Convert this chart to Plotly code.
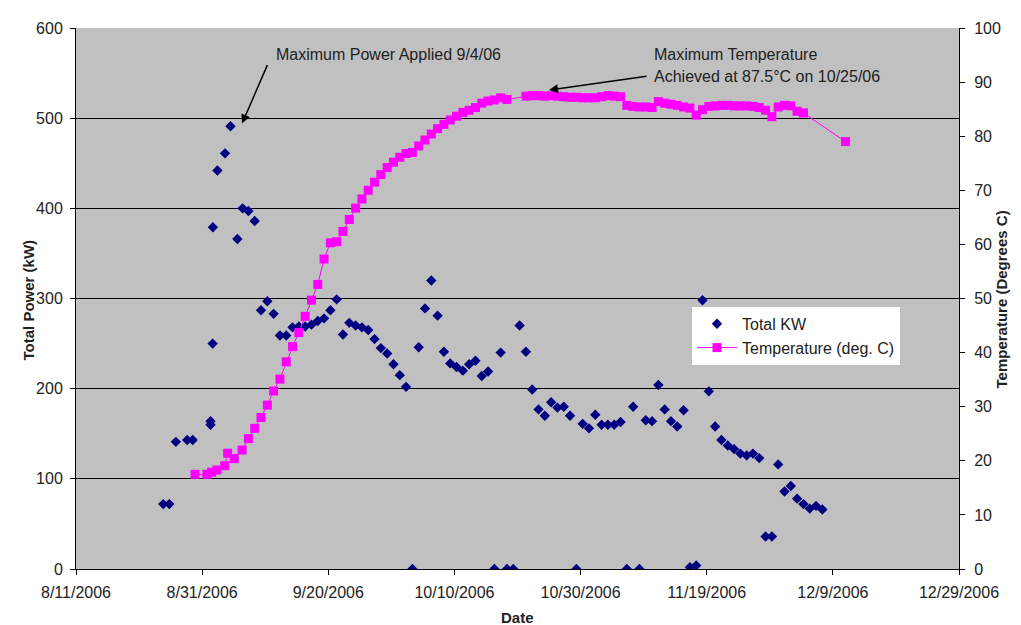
import plotly.graph_objects as go

# ---------------- data ----------------
kw_dates = [
    "2006-08-24 20:00", "2006-08-25 19:00", "2006-08-26 20:00", "2006-08-28 15:00",
    "2006-08-29 12:00", "2006-09-01 08:00", "2006-09-01 08:00", "2006-09-01 16:00",
    "2006-09-01 17:00", "2006-09-02 10:00", "2006-09-03 15:00", "2006-09-04 12:00",
    "2006-09-05 14:00", "2006-09-06 10:00", "2006-09-07 08:00", "2006-09-08 08:00",
    "2006-09-09 08:00", "2006-09-10 08:00", "2006-09-11 08:00", "2006-09-12 08:00",
    "2006-09-13 08:00", "2006-09-14 08:00", "2006-09-15 08:00", "2006-09-16 08:00",
    "2006-09-17 08:00", "2006-09-18 08:00", "2006-09-19 08:00", "2006-09-20 08:00",
    "2006-09-21 08:00", "2006-09-22 08:00", "2006-09-23 08:00", "2006-09-24 08:00",
    "2006-09-25 08:00", "2006-09-26 08:00", "2006-09-27 08:00", "2006-09-28 08:00",
    "2006-09-29 08:00", "2006-09-30 08:00", "2006-10-01 08:00", "2006-10-02 08:00",
    "2006-10-03 08:00", "2006-10-04 08:00", "2006-10-05 08:00", "2006-10-06 08:00",
    "2006-10-07 08:00", "2006-10-08 08:00", "2006-10-09 08:00", "2006-10-10 08:00",
    "2006-10-11 08:00", "2006-10-12 08:00", "2006-10-13 08:00", "2006-10-14 08:00",
    "2006-10-15 08:00", "2006-10-16 08:00", "2006-10-17 08:00", "2006-10-18 08:00",
    "2006-10-19 08:00", "2006-10-20 08:00", "2006-10-21 08:00", "2006-10-22 08:00",
    "2006-10-23 08:00", "2006-10-24 08:00", "2006-10-25 08:00", "2006-10-26 08:00",
    "2006-10-27 08:00", "2006-10-28 08:00", "2006-10-29 08:00", "2006-10-30 08:00",
    "2006-10-31 08:00", "2006-11-01 08:00", "2006-11-02 08:00", "2006-11-03 08:00",
    "2006-11-04 08:00", "2006-11-05 08:00", "2006-11-06 08:00", "2006-11-07 08:00",
    "2006-11-08 08:00", "2006-11-09 08:00", "2006-11-10 08:00", "2006-11-11 08:00",
    "2006-11-12 08:00", "2006-11-13 08:00", "2006-11-14 08:00", "2006-11-15 08:00",
    "2006-11-16 08:00", "2006-11-17 08:00", "2006-11-18 08:00", "2006-11-19 08:00",
    "2006-11-20 08:00", "2006-11-21 08:00", "2006-11-22 08:00", "2006-11-23 08:00",
    "2006-11-24 08:00", "2006-11-25 08:00", "2006-11-26 08:00", "2006-11-27 08:00",
    "2006-11-28 08:00", "2006-11-29 08:00", "2006-11-30 08:00", "2006-12-01 08:00",
    "2006-12-02 08:00", "2006-12-03 08:00", "2006-12-04 08:00", "2006-12-05 08:00",
    "2006-12-06 08:00", "2006-12-07 08:00",
]
kw_values = [
    72, 72, 141, 143,
    143, 164, 160, 250,
    379, 442, 461, 491,
    366, 400, 397, 386,
    287, 297, 283, 259,
    259, 268, 269, 269,
    271, 275, 278, 287,
    299, 260, 273, 270,
    268, 265, 255, 245,
    239, 227, 215, 202,
    0, 246, 289, 320,
    281, 241, 228, 224,
    220, 227, 231, 214,
    219, 0, 240, 0,
    0, 270, 241, 199,
    177, 170, 185, 179,
    180, 170, 0, 161,
    156, 171, 160, 160,
    160, 163, 0, 180,
    0, 165, 164, 204,
    177, 164, 158, 176,
    2, 4, 298, 197,
    158, 143, 137, 133,
    128, 126, 128, 123,
    36, 36, 116, 86,
    92, 78, 72, 67,
    70, 66,
]

temp_dates = [
    "2006-08-29 21:00", "2006-08-31 18:00", "2006-09-01 12:00", "2006-09-02 08:00",
    "2006-09-03 14:00", "2006-09-04 01:00", "2006-09-05 02:00",
    "2006-09-06 08:00", "2006-09-07 08:00", "2006-09-08 08:00", "2006-09-09 08:00",
    "2006-09-10 08:00", "2006-09-11 08:00", "2006-09-12 08:00", "2006-09-13 08:00",
    "2006-09-14 08:00", "2006-09-15 08:00", "2006-09-16 08:00", "2006-09-17 08:00",
    "2006-09-18 08:00", "2006-09-19 08:00", "2006-09-20 08:00", "2006-09-21 08:00",
    "2006-09-22 08:00", "2006-09-23 08:00", "2006-09-24 08:00", "2006-09-25 08:00",
    "2006-09-26 08:00", "2006-09-27 08:00", "2006-09-28 08:00", "2006-09-29 08:00",
    "2006-09-30 08:00", "2006-10-01 08:00", "2006-10-02 08:00", "2006-10-03 08:00",
    "2006-10-04 08:00", "2006-10-05 08:00", "2006-10-06 08:00", "2006-10-07 08:00",
    "2006-10-08 08:00", "2006-10-09 08:00", "2006-10-10 08:00", "2006-10-11 08:00",
    "2006-10-12 08:00", "2006-10-13 08:00", "2006-10-14 08:00", "2006-10-15 08:00",
    "2006-10-16 08:00", "2006-10-17 08:00", "2006-10-18 08:00",
    "2006-10-21 08:00", "2006-10-22 08:00", "2006-10-23 08:00", "2006-10-24 08:00",
    "2006-10-25 08:00", "2006-10-26 08:00", "2006-10-27 08:00", "2006-10-28 08:00",
    "2006-10-29 08:00", "2006-10-30 08:00", "2006-10-31 08:00", "2006-11-01 08:00",
    "2006-11-02 08:00", "2006-11-03 08:00", "2006-11-04 08:00", "2006-11-05 08:00",
    "2006-11-06 08:00", "2006-11-07 08:00", "2006-11-08 08:00", "2006-11-09 08:00",
    "2006-11-10 08:00", "2006-11-11 08:00", "2006-11-12 08:00", "2006-11-13 08:00",
    "2006-11-14 08:00", "2006-11-15 08:00", "2006-11-16 08:00", "2006-11-17 08:00",
    "2006-11-18 08:00", "2006-11-19 08:00", "2006-11-20 08:00", "2006-11-21 08:00",
    "2006-11-22 08:00", "2006-11-23 08:00", "2006-11-24 08:00", "2006-11-25 08:00",
    "2006-11-26 08:00", "2006-11-27 08:00", "2006-11-28 08:00", "2006-11-29 08:00",
    "2006-11-30 08:00", "2006-12-01 08:00", "2006-12-02 08:00", "2006-12-03 08:00",
    "2006-12-04 08:00", "2006-12-11 00:00",
]
temp_values = [
    17.5, 17.5, 17.9, 18.3,
    19.1, 21.4, 20.4,
    22.0, 24.1, 26.0, 28.0,
    30.3, 32.9, 35.1, 38.3,
    41.1, 43.7, 46.7, 49.7,
    52.6, 57.3, 60.3, 60.5,
    62.4, 64.6, 66.7, 68.4,
    70.0, 71.5, 72.9, 74.2,
    75.2, 76.1, 76.8, 77.0,
    78.2, 79.3, 80.4, 81.4,
    82.2, 83.0, 83.7, 84.4,
    84.8, 85.3, 86.1, 86.5,
    86.7, 87.1, 86.8,
    87.4, 87.5, 87.5, 87.4,
    87.5, 87.4, 87.3, 87.2,
    87.2, 87.1, 87.1, 87.1,
    87.3, 87.5, 87.4, 87.3,
    85.7, 85.5, 85.4, 85.4,
    85.3, 86.4, 86.1, 85.9,
    85.7, 85.4, 85.2, 83.9,
    84.9, 85.5, 85.6, 85.7,
    85.7, 85.6, 85.6, 85.6,
    85.5, 85.3, 84.8, 83.6,
    85.4, 85.7, 85.6, 84.6,
    84.3, 79.0,
]

x_range = ["2006-08-11", "2006-12-29"]
kw_range = [0, 600]
temp_range = [0, 100]

# ---------------- figure ----------------
FONT = "Arial, Liberation Sans, sans-serif"
TXT = "#222222"
BODY = 8                      # page body margin of the browser
W, H = 1021 - BODY, 625 - BODY
# plot area in window pixels: x 76..959, y 20..569
ML, MT = 76 - BODY, 20 - BODY
MR, MB = W - (959 - BODY), H - (569 - BODY)
PW, PH = W - ML - MR, H - MT - MB


def px(xw):
    """window x pixel -> paper fraction"""
    return (xw - BODY - ML) / PW


def py(yw):
    """window y pixel -> paper fraction"""
    return (H - MB - (yw - BODY)) / PH


fig = go.Figure()
fig.add_trace(go.Scatter(
    x=kw_dates, y=kw_values, mode="markers", name="Total KW",
    marker=dict(symbol="diamond", size=8, color="#000080",
                line=dict(width=0)),
))
fig.add_trace(go.Scatter(
    x=temp_dates, y=temp_values, mode="lines+markers",
    name="Temperature (deg. C)", yaxis="y2",
    marker=dict(symbol="square", size=9, color="#FF00FF",
                line=dict(width=0)),
    line=dict(color="#FF00FF", width=1),
))

tickfont = dict(family=FONT, size=16, color=TXT)
fig.update_layout(
    width=W, height=H,
    margin=dict(l=ML, r=MR, t=MT, b=MB, pad=0),
    paper_bgcolor="white", plot_bgcolor="#C0C0C0",
    font=dict(family=FONT, size=16, color=TXT),
    showlegend=True,
    legend=dict(
        x=px(692), y=py(303), xanchor="left", yanchor="top",
        bgcolor="white", borderwidth=0, itemwidth=40,
        font=dict(family=FONT, size=16, color=TXT),
    ),
    xaxis=dict(
        type="date", range=x_range, tick0=x_range[0],
        dtick=20 * 86400000, tickformat="%-m/%-d/%Y",
        showgrid=False, zeroline=False,
        showline=True, linecolor="black", linewidth=1,
        ticks="outside", ticklen=5, tickcolor="black",
        tickfont=tickfont, ticklabelstandoff=4,
    ),
    yaxis=dict(
        range=kw_range, dtick=100, showgrid=True, gridcolor="black",
        gridwidth=1, zeroline=False,
        showline=True, linecolor="black", linewidth=1,
        ticks="outside", ticklen=5, tickcolor="black",
        tickfont=tickfont, ticklabelstandoff=4,
    ),
    yaxis2=dict(
        range=temp_range, dtick=10, overlaying="y", side="right",
        showgrid=False, zeroline=False,
        showline=True, linecolor="black", linewidth=1,
        ticks="outside", ticklen=5, tickcolor="black",
        tickfont=tickfont, ticklabelstandoff=6,
    ),
)

ann = []
# axis titles
ann.append(dict(text="<b>Total Power (kW)</b>", x=px(18), y=py(296),
                xref="paper", yref="paper", textangle=-90, showarrow=False,
                font=dict(family=FONT, size=15, color=TXT)))
ann.append(dict(text="<b>Temperature (Degrees C)</b>", x=px(1012), y=py(296),
                xref="paper", yref="paper", textangle=-90, showarrow=False,
                font=dict(family=FONT, size=15, color=TXT)))
ann.append(dict(text="<b>Date</b>", x=px(518), y=py(628),
                xref="paper", yref="paper", yanchor="bottom", showarrow=False,
                borderpad=0,
                font=dict(family=FONT, size=15, color=TXT)))
# callout texts
ann.append(dict(text="Maximum Power Applied 9/4/06", x=px(274), y=py(47),
                xref="paper", yref="paper", xanchor="left", yanchor="middle",
                showarrow=False, font=dict(family=FONT, size=16, color=TXT)))
ann.append(dict(text="Maximum Temperature", x=px(652), y=py(47),
                xref="paper", yref="paper", xanchor="left", yanchor="middle",
                showarrow=False, font=dict(family=FONT, size=16, color=TXT)))
ann.append(dict(text="Achieved at 87.5\u00b0C on 10/25/06", x=px(652), y=py(69),
                xref="paper", yref="paper", xanchor="left", yanchor="middle",
                showarrow=False, font=dict(family=FONT, size=16, color=TXT)))
# arrows
ann.append(dict(text="", x=px(242), y=py(117), xref="paper", yref="paper",
                ax=26, ay=-60, axref="pixel", ayref="pixel",
                showarrow=True, arrowhead=2, arrowsize=1.2, arrowwidth=1.5,
                arrowcolor="black"))
ann.append(dict(text="", x=px(549), y=py(83), xref="paper", yref="paper",
                ax=99, ay=-14, axref="pixel", ayref="pixel",
                showarrow=True, arrowhead=2, arrowsize=1.2, arrowwidth=1.5,
                arrowcolor="black"))
fig.update_layout(annotations=ann)

fig.write_html("out.html")
